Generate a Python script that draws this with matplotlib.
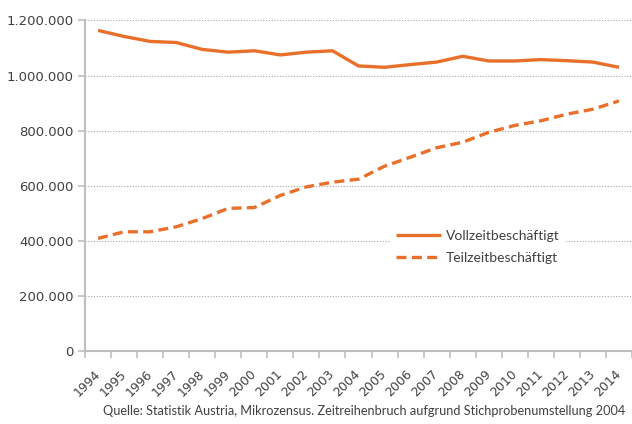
import numpy as np
import matplotlib
matplotlib.use("Agg")
import matplotlib.pyplot as plt
from matplotlib.ticker import FuncFormatter, MultipleLocator

# Jahre und Werte
years = [str(y) for y in range(1994, 2015)]
vollzeit = [1164000, 1142000, 1124000, 1120000, 1095000, 1085000, 1090000,
            1075000, 1085000, 1090000, 1035000, 1030000, 1040000, 1049000,
            1070000, 1053000, 1053000, 1058000, 1054000, 1049000, 1030000]
teilzeit = [409000, 433000, 433000, 451000, 481000, 518000, 521000,
            565000, 596000, 613000, 624000, 671000, 704000, 738000,
            758000, 794000, 819000, 836000, 860000, 878000, 908000]

orange = "#E8702A"
grey = "#BFBFBF"
text_col = "#404040"

fig = plt.figure(figsize=(6.32, 4.24), dpi=100)
ax = fig.add_axes([0.1345, 0.172, 0.8655, 0.7797])

x = np.arange(len(years))
ax.plot(x, vollzeit, color=orange, lw=2.4, solid_capstyle="butt",
        label="Vollzeitbeschäftigt")
ax.plot(x, teilzeit, color=orange, lw=2.4, dashes=(3.0, 1.6),
        label="Teilzeitbeschäftigt")

ax.set_ylim(0, 1200000)
ax.set_xlim(-0.5, 20.23)
ax.yaxis.set_major_locator(MultipleLocator(200000))
ax.yaxis.set_major_formatter(FuncFormatter(lambda v, p: f"{int(v):,}".replace(",", ".")))

# labels at category centres, tick marks between categories
ax.set_xticks(x)
ax.set_xticklabels(years, rotation=45, ha="right", va="center",
                   rotation_mode="anchor")
ax.set_xticks(np.arange(-0.5, 21, 1), minor=True)
ax.tick_params(axis="x", which="major", length=0, pad=15, labelsize=9,
               labelcolor=text_col)
ax.tick_params(axis="x", which="minor", length=5, color=grey, width=1.2)
ax.tick_params(axis="y", length=5, color=grey, width=1.2, labelsize=9.5,
               labelcolor=text_col, pad=3)

ax.grid(axis="y", color="#A6A6A6", linestyle=(0, (1, 1.5)), lw=0.8)
ax.set_axisbelow(True)
for side in ["top", "right"]:
    ax.spines[side].set_visible(False)
for side in ["left", "bottom"]:
    ax.spines[side].set_color(grey)
    ax.spines[side].set_linewidth(1.5)

leg = ax.legend(loc="upper left", bbox_to_anchor=(0.545, 0.405), frameon=True,
                prop={"family": "Lato", "size": 10}, handlelength=3.3,
                handletextpad=0.3, labelspacing=0.75, borderpad=0.4,
                fancybox=False)
leg.get_frame().set_edgecolor("white")
leg.get_frame().set_facecolor("white")
leg.get_frame().set_alpha(1)
for t in leg.get_texts():
    t.set_color(text_col)

fig.text(0.163, 0.022,
         "Quelle: Statistik Austria, Mikrozensus. Zeitreihenbruch aufgrund Stichprobenumstellung 2004",
         family="Lato", fontsize=9.2, color=text_col, ha="left", va="baseline")

fig.savefig("out.png", dpi=100)
